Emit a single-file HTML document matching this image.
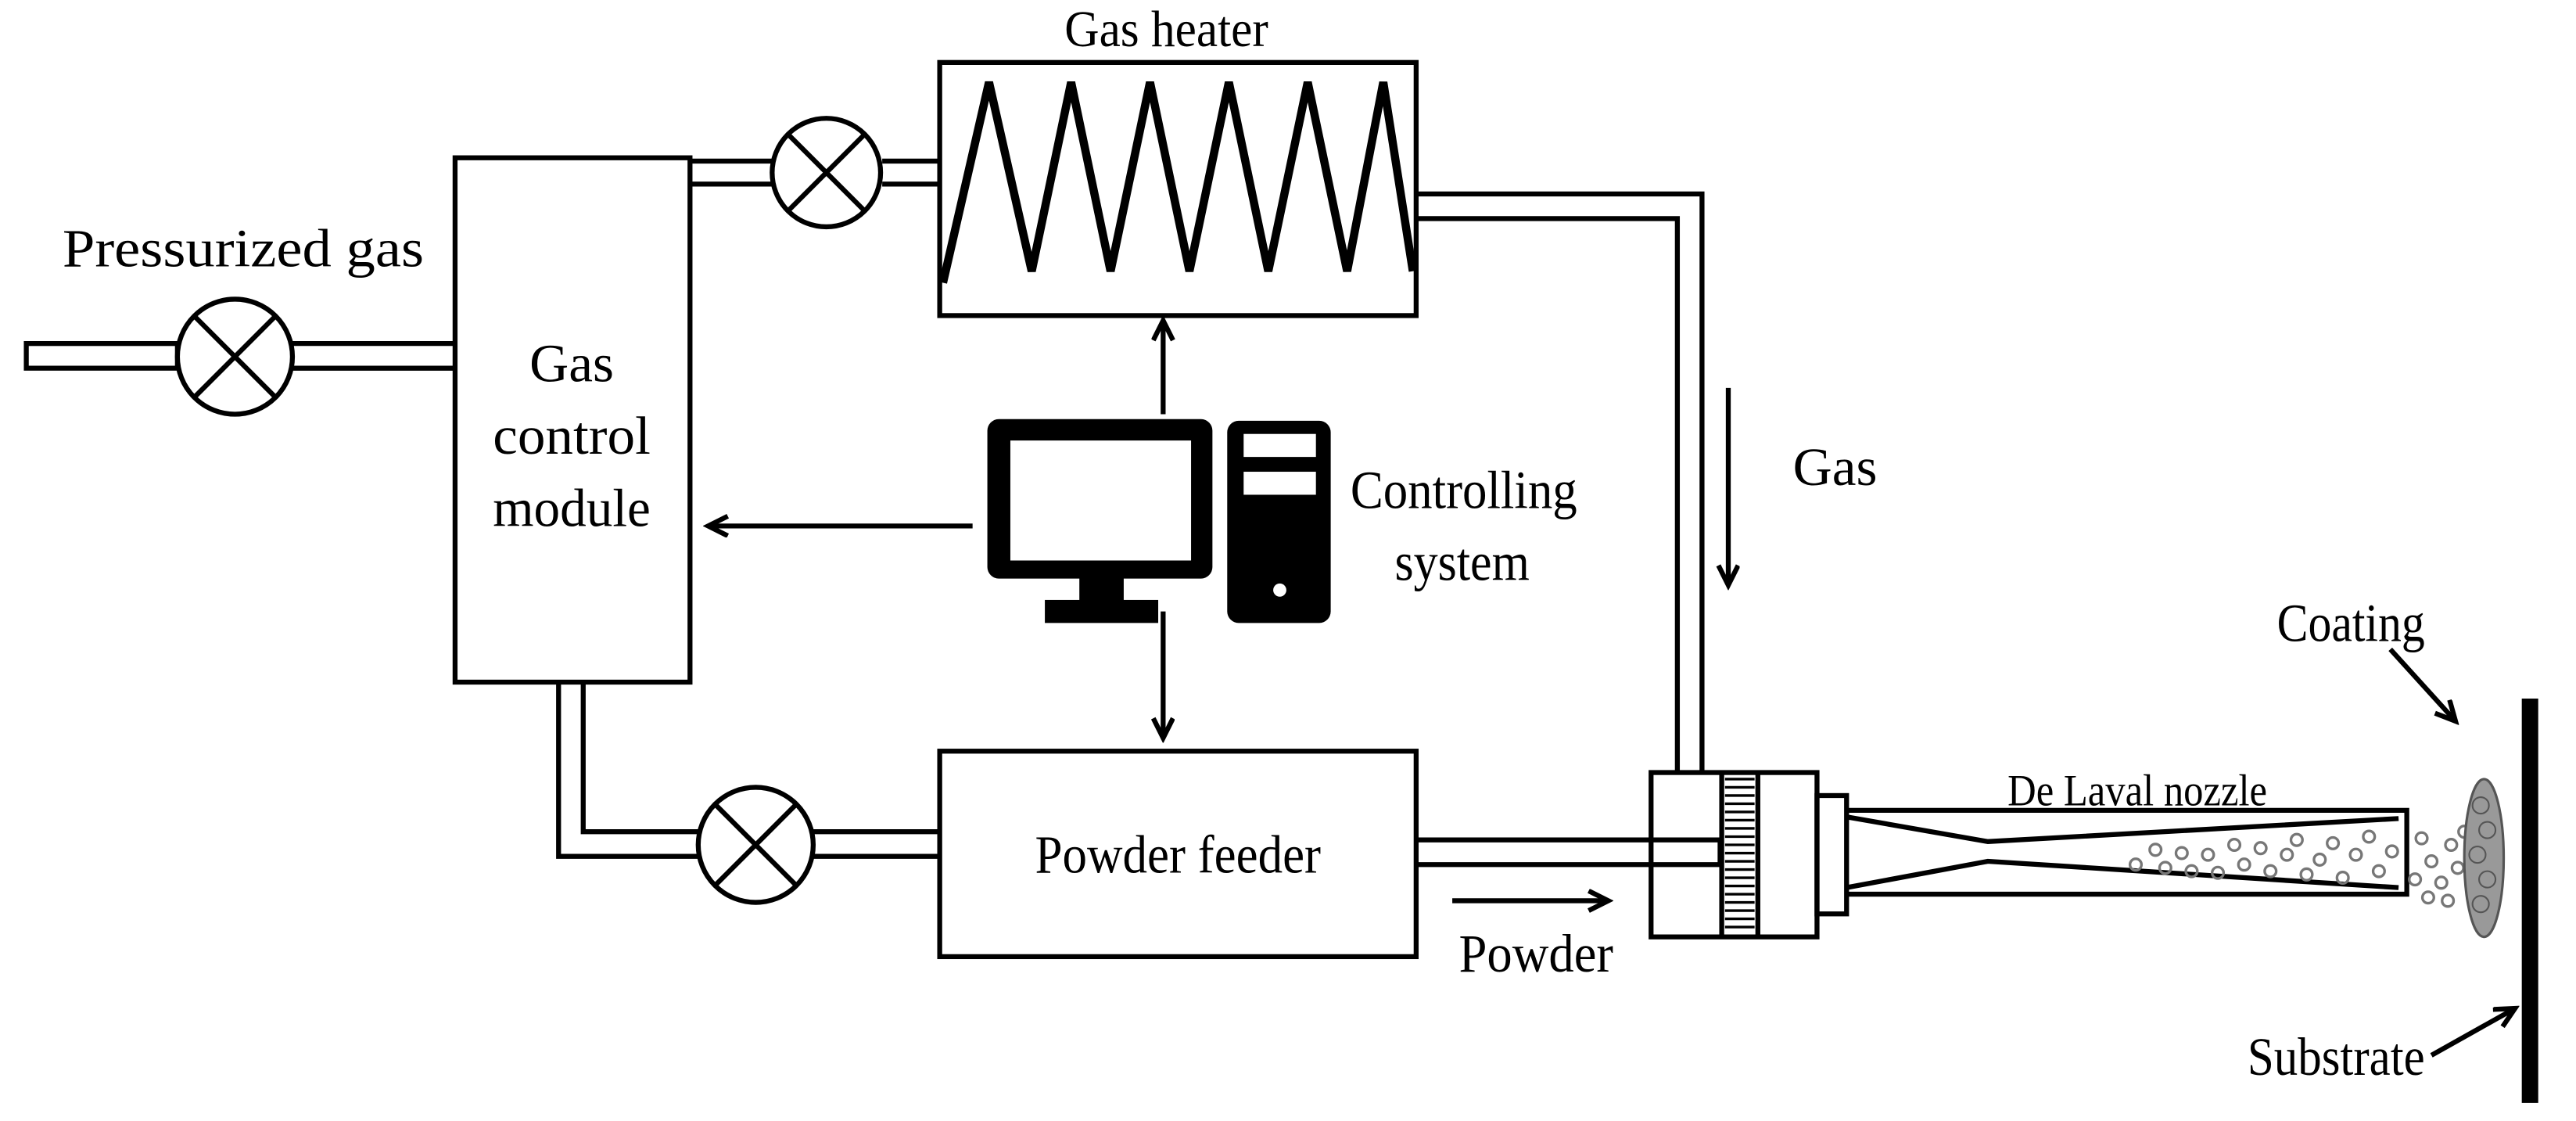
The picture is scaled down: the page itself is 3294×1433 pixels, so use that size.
<!DOCTYPE html>
<html><head><meta charset="utf-8"><style>html,body{margin:0;padding:0;background:#fff}svg{display:block}</style></head>
<body>
<svg width="3294" height="1433" viewBox="0 0 1568 682" preserveAspectRatio="none" xmlns="http://www.w3.org/2000/svg" font-family="Liberation Serif, serif">
<defs><marker id="ah" markerWidth="16" markerHeight="16" refX="12" refY="7" orient="auto" markerUnits="userSpaceOnUse"><path d="M1,1 L13,7 L1,13" fill="none" stroke="#000" stroke-width="3"/></marker></defs>
<g fill="none" stroke="#000" stroke-width="3">
<rect x="16" y="209" width="92" height="15" fill="#fff"/>
<path d="M178,209 H277 M178,224 H277"/>
<circle cx="143" cy="217" r="35" fill="#fff"/>
<path d="M118,192 L168,242 M168,192 L118,242"/>
<rect x="277" y="96" width="143" height="319"/>
<path d="M420,98 H470 M420,112 H470 M537,98 H572 M537,112 H572"/>
<circle cx="503" cy="105" r="33" fill="#fff"/>
<path d="M480,82 L526,128 M526,82 L480,128"/>
<rect x="572" y="38" width="290" height="154"/>
<path d="M574,172 L602,50 L628,165 L652,50 L676,165 L700,50 L724,165 L748,50 L772,165 L796,50 L820,165 L842,50 L860,165" stroke-width="5" stroke-linejoin="miter"/>
<path d="M862,118 H1036 V470 M862,133 H1021 V470"/>
<path d="M340,415 V521 H425 M355,415 V506 H425 M495,506 H572 M495,521 H572"/>
<circle cx="460" cy="514" r="35" fill="#fff"/>
<path d="M435,489 L485,539 M485,489 L435,539"/>
<rect x="572" y="457" width="290" height="125"/>
<path d="M862,511 H1047 V526 H862"/>
<rect x="1005" y="470" width="101" height="100"/>
<path d="M1048,470 V570 M1070,470 V570"/>
<rect x="1106" y="484" width="18" height="72"/>
<path d="M1124,493 H1465 V544 H1124" />
<path d="M1124,497 L1210,512 L1460,498 M1124,540 L1210,524 L1460,540" stroke-width="3"/>
</g>
<g stroke="#000" stroke-width="1.6">
<path d="M1050,474H1068M1050,479H1068M1050,484H1068M1050,489H1068M1050,494H1068M1050,499H1068M1050,504H1068M1050,509H1068M1050,514H1068M1050,519H1068M1050,524H1068M1050,529H1068M1050,534H1068M1050,539H1068M1050,544H1068M1050,549H1068M1050,554H1068M1050,559H1068M1050,564H1068"/>
</g>
<g fill="none" stroke="#777" stroke-width="1.6">
<circle cx="1300" cy="526" r="3.5"/><circle cx="1312" cy="517" r="3.5"/><circle cx="1318" cy="528" r="3.5"/><circle cx="1328" cy="519" r="3.5"/><circle cx="1334" cy="530" r="3.5"/><circle cx="1344" cy="520" r="3.5"/><circle cx="1350" cy="531" r="3.5"/><circle cx="1360" cy="514" r="3.5"/><circle cx="1366" cy="526" r="3.5"/><circle cx="1376" cy="516" r="3.5"/><circle cx="1382" cy="530" r="3.5"/><circle cx="1392" cy="520" r="3.5"/><circle cx="1398" cy="511" r="3.5"/><circle cx="1404" cy="532" r="3.5"/><circle cx="1412" cy="523" r="3.5"/><circle cx="1420" cy="513" r="3.5"/><circle cx="1426" cy="534" r="3.5"/><circle cx="1434" cy="520" r="3.5"/><circle cx="1442" cy="509" r="3.5"/><circle cx="1448" cy="530" r="3.5"/><circle cx="1456" cy="518" r="3.5"/>
<circle cx="1474" cy="510" r="3.5"/><circle cx="1480" cy="524" r="3.5"/><circle cx="1486" cy="537" r="3.5"/><circle cx="1492" cy="514" r="3.5"/><circle cx="1496" cy="528" r="3.5"/><circle cx="1470" cy="535" r="3.5"/><circle cx="1500" cy="506" r="3.5"/><circle cx="1478" cy="546" r="3.5"/><circle cx="1490" cy="548" r="3.5"/>
</g>
<ellipse cx="1512" cy="522" rx="12" ry="48" fill="#999" stroke="#555" stroke-width="1.5"/>
<g fill="none" stroke="#555" stroke-width="1"><circle cx="1510" cy="490" r="5"/><circle cx="1514" cy="505" r="5"/><circle cx="1508" cy="520" r="5"/><circle cx="1514" cy="535" r="5"/><circle cx="1510" cy="550" r="5"/></g>
<rect x="1535" y="425" width="10" height="246" fill="#000"/>
<rect x="601" y="255" width="137" height="97" rx="7" fill="#000"/>
<rect x="615" y="268" width="110" height="73" fill="#fff"/>
<rect x="657" y="350" width="27" height="18" fill="#000"/>
<rect x="636" y="365" width="69" height="14" fill="#000"/>
<rect x="747" y="256" width="63" height="123" rx="7" fill="#000"/>
<rect x="757" y="264" width="44" height="14" fill="#fff"/>
<rect x="757" y="287" width="44" height="14" fill="#fff"/>
<circle cx="779" cy="359" r="4" fill="#fff"/>
<g stroke="#000" stroke-width="3" fill="none" marker-end="url(#ah)">
<path d="M708,252 V196"/>
<path d="M592,320 H432"/>
<path d="M708,372 V448"/>
<path d="M1052,236 V355"/>
<path d="M884,548 H978"/>
<path d="M1455,395 L1494,438"/>
<path d="M1480,642 L1530,614"/>
</g>
<g font-size="33" fill="#000" lengthAdjust="spacingAndGlyphs">
<text x="648" y="28" font-size="31" textLength="124" lengthAdjust="spacingAndGlyphs">Gas heater</text>
<text x="38" y="162" textLength="220" lengthAdjust="spacingAndGlyphs">Pressurized gas</text>
<text x="348" y="232" text-anchor="middle">Gas</text>
<text x="300" y="276" textLength="96" lengthAdjust="spacingAndGlyphs">control</text>
<text x="300" y="320" textLength="96" lengthAdjust="spacingAndGlyphs">module</text>
<text x="822" y="309" textLength="138" lengthAdjust="spacingAndGlyphs">Controlling</text>
<text x="849" y="353" textLength="82" lengthAdjust="spacingAndGlyphs">system</text>
<text x="1117" y="295" text-anchor="middle">Gas</text>
<text x="630" y="531" textLength="174" lengthAdjust="spacingAndGlyphs">Powder feeder</text>
<text x="888" y="591" textLength="94" lengthAdjust="spacingAndGlyphs">Powder</text>
<text x="1222" y="490" font-size="27" textLength="158" lengthAdjust="spacingAndGlyphs">De Laval nozzle</text>
<text x="1386" y="390" textLength="90" lengthAdjust="spacingAndGlyphs">Coating</text>
<text x="1368" y="654" textLength="108" lengthAdjust="spacingAndGlyphs">Substrate</text>
</g>
</svg>
</body></html>
